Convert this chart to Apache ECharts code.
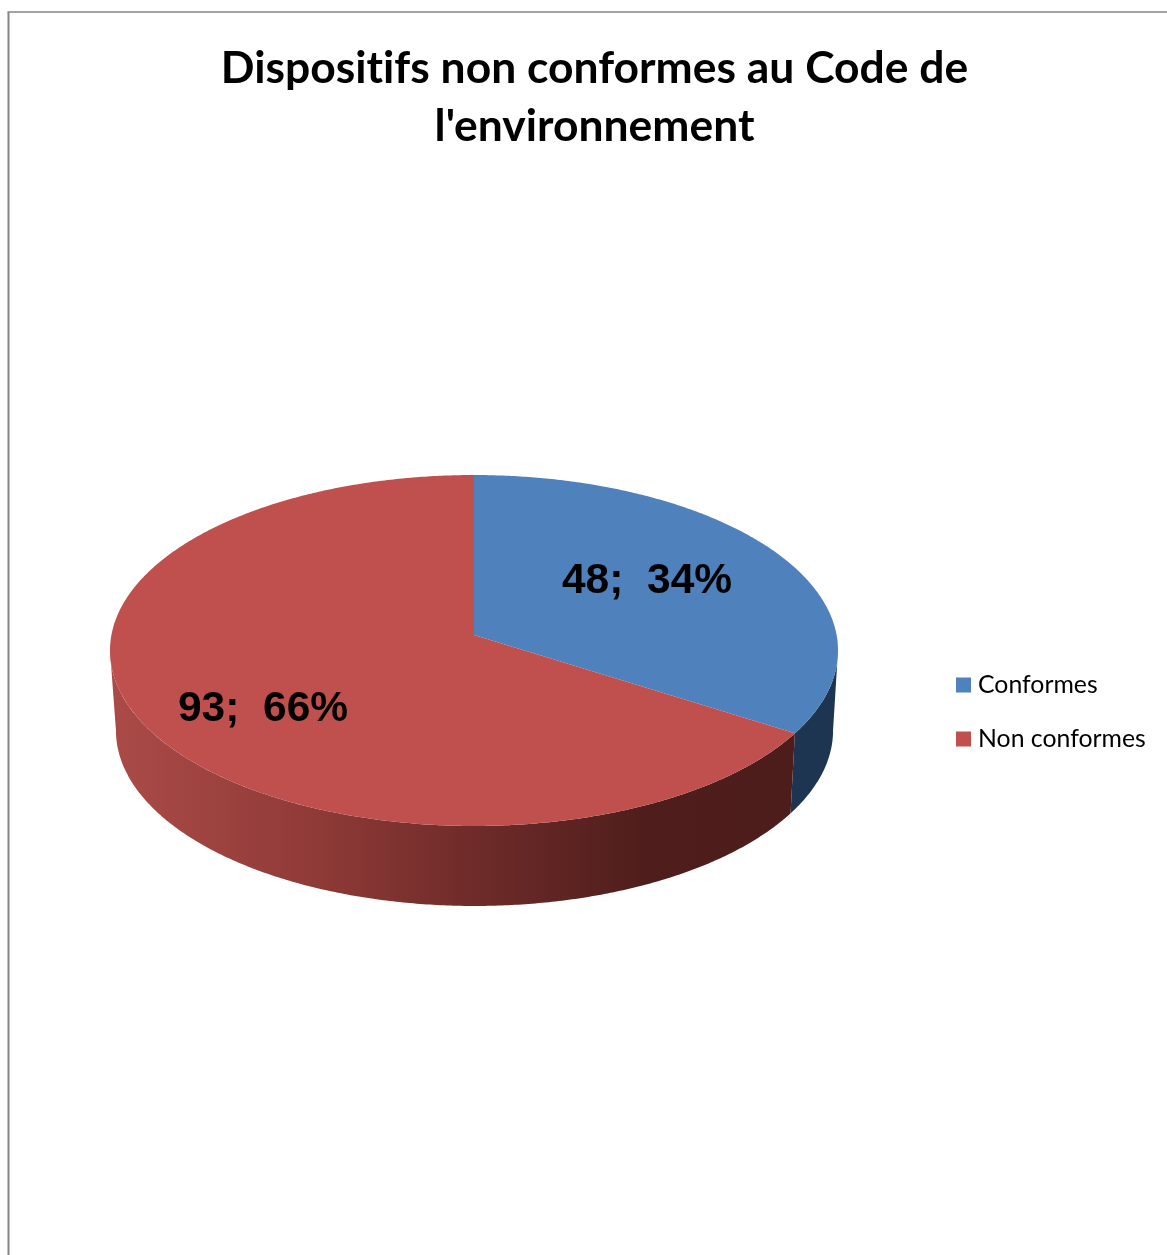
<!DOCTYPE html>
<html lang="fr">
<head>
<meta charset="utf-8">
<title>Dispositifs non conformes au Code de l'environnement</title>
<style>
  html, body { margin: 0; padding: 0; background: #fff; }
  #chart { width: 1167px; height: 1255px; }
</style>
<script src="https://cdn.jsdelivr.net/npm/echarts@6/dist/echarts.min.js"></script>
</head>
<body>
<div id="chart"></div>
<script>
// Chart content
const chartTitle = "Dispositifs non conformes au Code de\nl'environnement";
const categories = ['Conformes', 'Non conformes'];
const counts = [48, 93];

// Colours
const topColors = ['#4F81BD', '#C0504D'];
const wallFills = [
  () => '#1D3550',
  () => new echarts.graphic.LinearGradient(0, 0, 1, 0, [
    { offset: 0, color: '#AB4B48' },
    { offset: 0.3, color: '#8F3A37' },
    { offset: 0.55, color: '#6C2A28' },
    { offset: 0.78, color: '#4F1E1C' },
    { offset: 1, color: '#4D1D1B' }
  ])
];

// Perspective disc: the hub sits above the centre of the visible ellipse
const hub = { x: 474, y: 635 };
const lowerHub = { x: 474.5, y: 715 };
const lowerScaleX = 0.985;
const spanX = 362.6;
const spanY = 174.1;
const tilt = -0.0883;
const visibleFrom = 95;   // right-hand extreme of the silhouette, degrees clockwise from 12 o'clock
const visibleTo = 265;    // left-hand extreme
const labelAnchors = [[647, 581], [263, 709]];

const total = counts.reduce((a, b) => a + b, 0);
const startAngles = counts.map((_, i) =>
  counts.slice(0, i).reduce((a, b) => a + b, 0) / total * 360);

function project(deg, origin, scaleX) {
  const rad = deg * Math.PI / 180;
  const cx = Math.sin(rad);
  const cy = -Math.cos(rad);
  const w = 1 + tilt * cy;
  return [origin.x + scaleX * spanX * cx / w, origin.y + spanY * cy / w];
}

function arcPoints(from, to, origin, scaleX) {
  const pts = [];
  const steps = Math.max(2, Math.ceil(Math.abs(to - from) * 2));
  for (let k = 0; k <= steps; k++) {
    pts.push(project(from + (to - from) * k / steps, origin, scaleX));
  }
  return pts;
}

function sliceRenderer(index) {
  return function (params, api) {
    const value = api.value(0);
    const start = startAngles[index];
    const end = start + value / total * 360;
    const children = [];

    const wallFrom = Math.max(start, visibleFrom);
    const wallTo = Math.min(end, visibleTo);
    if (wallTo > wallFrom) {
      children.push({
        type: 'polygon',
        shape: {
          points: arcPoints(wallFrom, wallTo, hub, 1)
            .concat(arcPoints(wallTo, wallFrom, lowerHub, lowerScaleX))
        },
        style: { fill: wallFills[index]() }
      });
    }

    children.push({
      type: 'polygon',
      shape: { points: [[hub.x, hub.y]].concat(arcPoints(start, end, hub, 1)) },
      style: { fill: topColors[index] }
    });

    const share = Math.round(value / total * 100);
    children.push({
      type: 'text',
      x: labelAnchors[index][0],
      y: labelAnchors[index][1],
      style: {
        text: value + ';  ' + share + '%',
        fill: '#000',
        font: 'bold 42.5px "Liberation Sans", Arial, sans-serif',
        align: 'center',
        verticalAlign: 'middle'
      }
    });

    return { type: 'group', children };
  };
}

const chart = echarts.init(document.getElementById('chart'), null, { renderer: 'canvas' });

const option = {
  animation: false,
  backgroundColor: '#fff',
  title: {
    text: chartTitle,
    left: 589.5,
    top: 35,
    textAlign: 'center',
    textStyle: {
      fontFamily: 'Lato, "Open Sans", sans-serif',
      fontWeight: 'bold',
      fontSize: 44.4,
      lineHeight: 58,
      color: '#000'
    }
  },
  legend: {
    data: categories,
    orient: 'vertical',
    left: 951,
    top: 665,
    itemWidth: 15,
    itemHeight: 15,
    itemGap: 24,
    icon: 'rect',
    textStyle: {
      fontFamily: 'Lato, "Open Sans", sans-serif',
      fontSize: 24.8,
      lineHeight: 30,
      color: '#000',
      padding: [0, 0, 0, 2]
    }
  },
  graphic: [
    { type: 'line', silent: true, shape: { x1: 8.5, y1: 12, x2: 8.5, y2: 1255 }, style: { stroke: '#868686', lineWidth: 2 } },
    { type: 'line', silent: true, shape: { x1: 7.5, y1: 12, x2: 1167, y2: 12 }, style: { stroke: '#868686', lineWidth: 1.5 } }
  ],
  series: categories.map((name, i) => ({
    type: 'custom',
    name,
    coordinateSystem: 'none',
    silent: true,
    itemStyle: { color: topColors[i] },
    data: [[counts[i]]],
    renderItem: sliceRenderer(i)
  }))
};

chart.setOption(option);

// A tiny letter spacing keeps the "ti" pair as separate glyphs, then the chart is painted again
document.querySelectorAll('#chart canvas').forEach(canvas => {
  canvas.getContext('2d').letterSpacing = '0.01px';
});
chart.setOption(option, true);
</script>
</body>
</html>
